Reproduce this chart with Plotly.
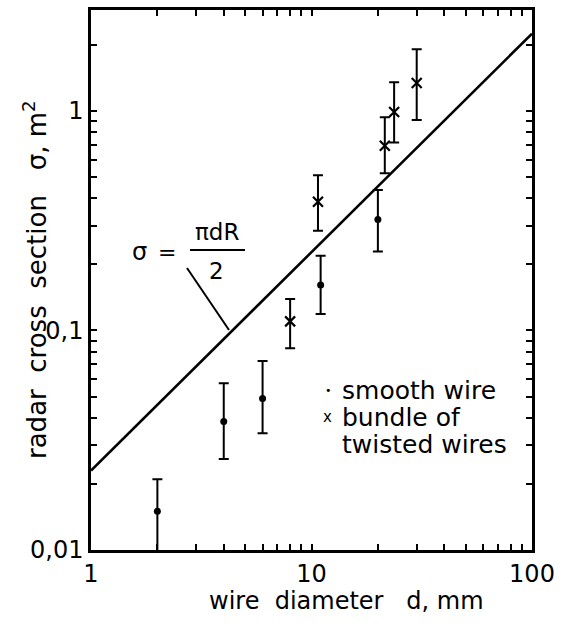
import plotly.graph_objects as go

# smooth wire data (diameter mm, RCS m^2, error-bar upper/lower)
smooth_d = [2, 4, 6, 11, 20]
smooth_sigma = [0.015, 0.0385, 0.049, 0.161, 0.32]
smooth_hi = [0.021, 0.0575, 0.0726, 0.219, 0.436]
smooth_lo = [0.0098, 0.026, 0.034, 0.119, 0.229]

# bundle of twisted wires
bundle_d = [8, 10.7, 21.5, 23.7, 30]
bundle_sigma = [0.110, 0.386, 0.695, 0.99, 1.34]
bundle_hi = [0.139, 0.51, 0.936, 1.35, 1.91]
bundle_lo = [0.083, 0.285, 0.52, 0.718, 0.91]

# theoretical line sigma = pi d R / 2
line_d = [1, 100]
line_sigma = [0.023, 2.25]

x_tickvals = [1, 2, 3, 4, 5, 6, 7, 8, 9, 10, 20, 30, 40, 50, 60, 70, 80, 90, 100]
x_ticktext = ["1"] + [" "] * 8 + ["10"] + [" "] * 8 + ["100"]
y_tickvals = [0.01, 0.02, 0.03, 0.04, 0.05, 0.06, 0.07, 0.08, 0.09,
              0.1, 0.2, 0.3, 0.4, 0.5, 0.6, 0.7, 0.8, 0.9, 1, 2]
y_ticktext = ["0,01"] + [" "] * 8 + ["0,1"] + [" "] * 8 + ["1", " "]

FONT = "DejaVu Sans"

fig = go.Figure()

fig.add_trace(go.Scatter(
    x=line_d, y=line_sigma, mode="lines",
    line=dict(color="black", width=2.6), showlegend=False, hoverinfo="skip"))

fig.add_trace(go.Scatter(
    x=smooth_d, y=smooth_sigma, mode="markers",
    marker=dict(symbol="circle", size=7, color="black"),
    error_y=dict(type="data", symmetric=False,
                 array=[h - s for h, s in zip(smooth_hi, smooth_sigma)],
                 arrayminus=[s - l for s, l in zip(smooth_sigma, smooth_lo)],
                 color="black", thickness=2, width=5),
    showlegend=False))

fig.add_trace(go.Scatter(
    x=bundle_d, y=bundle_sigma, mode="markers",
    marker=dict(symbol="x-thin", size=10, color="black",
                line=dict(color="black", width=2.2)),
    error_y=dict(type="data", symmetric=False,
                 array=[h - s for h, s in zip(bundle_hi, bundle_sigma)],
                 arrayminus=[s - l for s, l in zip(bundle_sigma, bundle_lo)],
                 color="black", thickness=2, width=5),
    showlegend=False))

L, R, T, B = 91, 33, 10, 74
W, H = 565, 624
pw, ph = W - L - R, H - T - B


def px(x, y):
    return (x - L) / pw, (H - B - y) / ph


ann = []
def add_text(text, x, y, size, xanchor="center", angle=0):
    xp, yp = px(x, y)
    ann.append(dict(text=text, x=xp, y=yp, xref="paper", yref="paper",
                    showarrow=False, xanchor=xanchor, yanchor="middle",
                    textangle=angle,
                    font=dict(family=FONT, size=size, color="black")))

add_text("σ", 139, 252, 24)
add_text("=", 167, 253, 22)
add_text("πdR", 217, 232, 23)
add_text("2", 216, 271, 23)

add_text("•", 328, 390, 11)
add_text("smooth wire", 340, 390, 25, xanchor="left")
add_text("x", 327, 417, 15)
add_text("bundle of", 340, 417, 25, xanchor="left")
add_text("twisted wires", 340, 444, 25, xanchor="left")

# axis titles
add_text("wire  diameter   d, mm", 346, 601, 24)
add_text("radar  cross  section   σ, m<sup>2</sup>", 35, 280, 26, angle=-90)

shapes = []
x0, y0 = px(190, 250)
x1, y1 = px(245, 250)
shapes.append(dict(type="line", xref="paper", yref="paper", x0=x0, y0=y0,
                   x1=x1, y1=y1, line=dict(color="black", width=2)))
x0, y0 = px(187, 268)
x1, y1 = px(229, 330)
shapes.append(dict(type="line", xref="paper", yref="paper", x0=x0, y0=y0,
                   x1=x1, y1=y1, line=dict(color="black", width=2)))

axis_common = dict(
    showgrid=False, zeroline=False, showline=True, linecolor="black",
    linewidth=2.5, mirror="ticks", ticks="inside", ticklen=6, tickwidth=1.5,
    tickcolor="black", tickfont=dict(family=FONT, size=24, color="black"),
    automargin=False, tickangle=0,
)

fig.update_xaxes(type="log", range=[0, 2], tickmode="array",
                 tickvals=x_tickvals, ticktext=x_ticktext, **axis_common)
fig.update_yaxes(type="log", range=[-2, 0.46], tickmode="array",
                 tickvals=y_tickvals, ticktext=y_ticktext, **axis_common)

fig.update_layout(
    width=W, height=H,
    margin=dict(l=L, r=R, t=T, b=B),
    paper_bgcolor="white", plot_bgcolor="white",
    annotations=ann, shapes=shapes,
    font=dict(family=FONT, color="black"),
)

fig.write_html(
    "out.html",
    config={"displayModeBar": False},
    post_script="document.body.style.margin='0';document.body.style.overflow='hidden';",
)
